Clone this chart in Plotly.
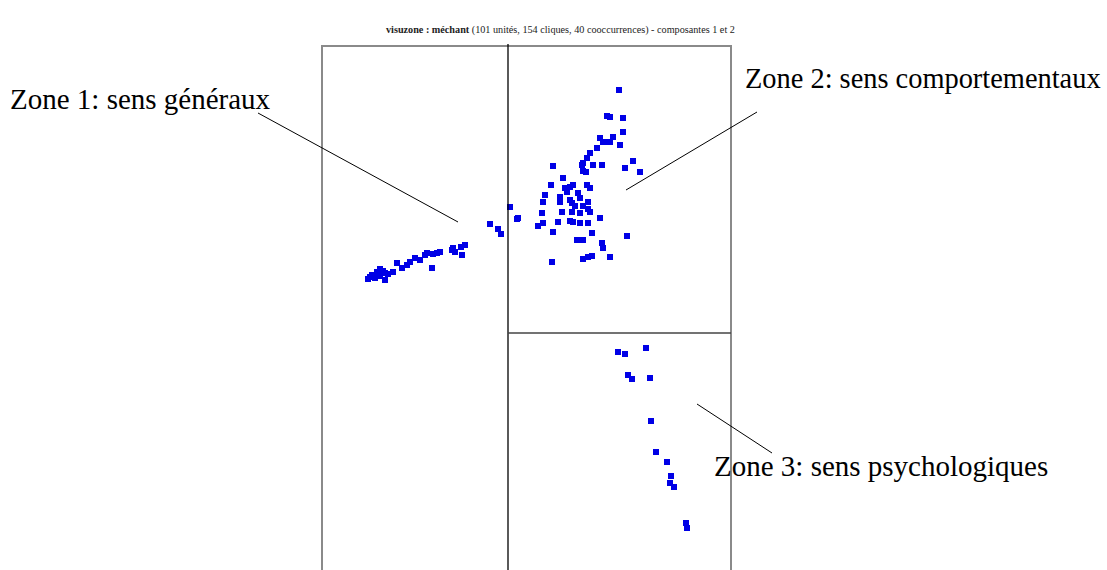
import plotly.graph_objects as go

# Component coordinates (component 1 = x, component 2 = y)
zone1_x = [-1.40, -1.36, -1.31, -1.28, -1.23, -1.23, -1.28, -1.15, -1.11, -1.06, -1.01, -0.98,
           -0.93, -0.88, -0.83, -0.81, -0.76, -0.75, -0.71, -0.68, -0.56, -0.53, -0.47, -0.46,
           -0.43, -0.55, -0.18, -0.10, -0.07, 0.02, 0.10, 0.09, -1.38, -1.33, -1.25, -1.20]
zone1_y = [0.54, 0.58, 0.61, 0.64, 0.60, 0.53, 0.57, 0.61, 0.70, 0.65, 0.68, 0.71,
           0.75, 0.73, 0.78, 0.80, 0.65, 0.79, 0.80, 0.81, 0.83, 0.81, 0.86, 0.78,
           0.88, 0.85, 1.09, 1.04, 0.99, 1.26, 1.15, 1.14, 0.56, 0.55, 0.62, 0.59]

zone2_x = [1.11, 0.99, 1.02, 1.15, 1.15, 0.92, 1.05, 0.95, 0.99, 1.02, 1.12, 0.89, 0.82,
           0.79, 0.75, 0.45, 0.74, 0.75, 0.85, 0.94, 1.25, 1.17, 1.32,
           0.43, 0.57, 0.62, 0.65, 0.59, 0.79, 0.82, 0.70, 0.52, 0.62, 0.72, 0.37, 0.35,
           0.52, 0.64, 0.80, 0.67, 0.75, 0.34, 0.54, 0.64, 0.72, 0.82, 0.80, 0.92, 0.35,
           0.30, 0.50, 0.62, 0.65, 0.72, 0.80, 0.45, 0.84, 1.19, 0.69, 0.75, 0.94, 0.95,
           0.44, 0.75, 0.80, 0.84, 1.02, 0.78, 0.55]
zone2_y = [2.43, 2.17, 2.16, 2.15, 2.01, 1.95, 1.96, 1.91, 1.91, 1.91, 1.88, 1.85, 1.80,
           1.75, 1.70, 1.67, 1.68, 1.62, 1.68, 1.68, 1.72, 1.65, 1.61,
           1.48, 1.45, 1.46, 1.48, 1.41, 1.48, 1.45, 1.40, 1.36, 1.33, 1.35, 1.38, 1.31,
           1.31, 1.30, 1.31, 1.27, 1.27, 1.20, 1.21, 1.21, 1.20, 1.21, 1.24, 1.15, 1.10,
           1.07, 1.11, 1.12, 1.11, 1.10, 1.10, 1.01, 1.00, 0.97, 0.93, 0.93, 0.90, 0.85,
           0.71, 0.74, 0.76, 0.77, 0.76, 1.61, 1.55]

zone3_x = [1.10, 1.17, 1.38, 1.20, 1.24, 1.42, 1.43, 1.48, 1.59, 1.63, 1.62, 1.66, 1.78, 1.79]
zone3_y = [-0.19, -0.21, -0.15, -0.42, -0.46, -0.45, -0.88, -1.19, -1.29, -1.43, -1.50, -1.54,
           -1.90, -1.95]

title_bold = "visuzone : méchant"
title_rest = " (101 unités, 154 cliques, 40 cooccurrences) - composantes 1 et 2"
zone_labels = ["Zone 1: sens généraux", "Zone 2: sens comportementaux", "Zone 3: sens psychologiques"]

x_range = [-1.86, 2.23]
y_range = [-2.37, 2.87]

W, H = 1107, 570
blue = "#0000e6"
serif = "Liberation Serif, Times New Roman, serif"

fig = go.Figure()
for xs, ys in [(zone1_x, zone1_y), (zone2_x, zone2_y), (zone3_x, zone3_y)]:
    fig.add_trace(go.Scatter(
        x=xs, y=ys, mode="markers",
        marker=dict(symbol="square", size=6, color=blue, line=dict(width=0)),
        showlegend=False, hoverinfo="x+y"))

fig.update_layout(
    width=W, height=H,
    margin=dict(l=0, r=0, t=0, b=0),
    paper_bgcolor="white", plot_bgcolor="white",
    xaxis=dict(domain=[322 / W, 731 / W], range=x_range, visible=False, fixedrange=True),
    yaxis=dict(domain=[0, (H - 46) / H], range=y_range, visible=False, fixedrange=True),
    font=dict(family=serif, color="black"),
)

shapes = [
    dict(type="rect", xref="paper", yref="paper", x0=322 / W, x1=731 / W, y0=-0.01, y1=(H - 46) / H,
         line=dict(color="#8a8a8a", width=2)),
    dict(type="line", xref="x", yref="paper", x0=0, x1=0, y0=-0.01, y1=(H - 44) / H,
         line=dict(color="black", width=1.3)),
    dict(type="line", xref="x", yref="y", x0=0, x1=x_range[1], y0=0, y1=0,
         line=dict(color="#444444", width=1.5)),
    dict(type="line", xref="paper", yref="paper", x0=258 / W, y0=1 - 113 / H, x1=458 / W, y1=1 - 222 / H,
         line=dict(color="black", width=1)),
    dict(type="line", xref="paper", yref="paper", x0=626 / W, y0=1 - 190 / H, x1=757 / W, y1=1 - 112 / H,
         line=dict(color="black", width=1)),
    dict(type="line", xref="paper", yref="paper", x0=697 / W, y0=1 - 404 / H, x1=772 / W, y1=1 - 453 / H,
         line=dict(color="black", width=1)),
]
fig.update_layout(shapes=shapes)

anns = [
    dict(text="<b>" + title_bold + "</b>" + title_rest, x=560 / W, y=1 - 30 / H, xanchor="center",
         font=dict(size=10.2, family=serif, color="#222222")),
    dict(text=zone_labels[0], x=8 / W, y=1 - 99 / H, xanchor="left", font=dict(size=29, family=serif)),
    dict(text=zone_labels[1], x=743 / W, y=1 - 79 / H, xanchor="left", font=dict(size=28.4, family=serif)),
    dict(text=zone_labels[2], x=712 / W, y=1 - 466 / H, xanchor="left", font=dict(size=29, family=serif)),
]
for a in anns:
    a.update(xref="paper", yref="paper", showarrow=False, yanchor="middle")
fig.update_layout(annotations=anns)

fig.write_html("out.html", config={"displayModeBar": False},
               post_script="document.body.style.margin='0';document.body.style.overflow='hidden';")
